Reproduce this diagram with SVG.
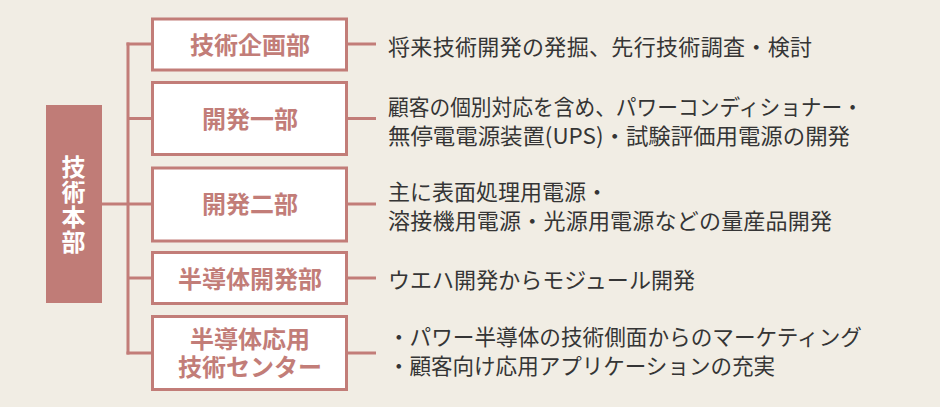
<svg xmlns="http://www.w3.org/2000/svg" width="940" height="407" viewBox="0 0 940 407">
<style>
.bg{fill:#f1ede4}
.box{fill:#ffffff;stroke:#c27d78;stroke-width:3}
.lbl{font-family:"Noto Sans CJK JP","Noto Sans",sans-serif;font-weight:bold;font-size:24px;fill:#c27d78;text-anchor:middle}
.main{fill:#c07c77}
.mtxt{font-family:"Noto Sans CJK JP","Noto Sans",sans-serif;font-weight:bold;font-size:24px;fill:#ffffff;writing-mode:vertical-rl;letter-spacing:1px}
.desc{font-family:"Noto Sans CJK JP","Noto Sans",sans-serif;font-size:22px;fill:#353535}
.ln{stroke:#c27d78;stroke-width:3;fill:none}
</style>
<rect class="bg" x="0" y="0" width="940" height="407"/>
<g id="connectors">
<line class="ln" x1="101" y1="204" x2="128" y2="204"/>
<line class="ln" x1="128" y1="42.5" x2="128" y2="354.5"/>
<line class="ln" x1="126.5" y1="44" x2="152" y2="44"/>
<line class="ln" x1="128" y1="118.5" x2="152" y2="118.5"/>
<line class="ln" x1="128" y1="204" x2="152" y2="204"/>
<line class="ln" x1="128" y1="278" x2="152" y2="278"/>
<line class="ln" x1="126.5" y1="353" x2="152" y2="353"/>
<line class="ln" x1="348" y1="44" x2="376" y2="44"/>
<line class="ln" x1="348" y1="118.5" x2="376" y2="118.5"/>
<line class="ln" x1="348" y1="204" x2="376" y2="204"/>
<line class="ln" x1="348" y1="278" x2="376" y2="278"/>
<line class="ln" x1="348" y1="353" x2="376" y2="353"/>
</g>
<g id="n0">
<rect class="main" x="46" y="105" width="56" height="198"/>
<text class="mtxt" x="73.5" y="155">技術本部</text>
</g>
<g id="n1">
<rect class="box" x="152.5" y="19" width="194" height="51"/>
<text class="lbl" x="250" y="54">技術企画部</text>
</g>
<g id="n2">
<rect class="box" x="152.5" y="82.5" width="194" height="72"/>
<text class="lbl" x="250" y="128">開発一部</text>
</g>
<g id="n3">
<rect class="box" x="152.5" y="168" width="194" height="73"/>
<text class="lbl" x="250" y="213">開発二部</text>
</g>
<g id="n4">
<rect class="box" x="152.5" y="252.5" width="194" height="51"/>
<text class="lbl" x="250" y="288">半導体開発部</text>
</g>
<g id="n5">
<rect class="box" x="152.5" y="316.5" width="194" height="73"/>
<text class="lbl" x="250" y="348"><tspan x="250" y="348">半導体応用</tspan><tspan x="250" y="376">技術センター</tspan></text>
</g>
<g id="d1"><text class="desc" x="388" y="55" textLength="424" lengthAdjust="spacing">将来技術開発の発掘、先行技術調査・検討</text></g>
<g id="d2">
<text class="desc" x="388" y="115" textLength="475" lengthAdjust="spacingAndGlyphs">顧客の個別対応を含め、パワーコンディショナー・</text>
<text class="desc" x="388" y="144" textLength="462" lengthAdjust="spacingAndGlyphs">無停電電源装置(UPS)・試験評価用電源の開発</text>
</g>
<g id="d3">
<text class="desc" x="388" y="200">主に表面処理用電源・</text>
<text class="desc" x="388" y="229" textLength="444" lengthAdjust="spacing">溶接機用電源・光源用電源などの量産品開発</text>
</g>
<g id="d4"><text class="desc" x="388" y="288" textLength="307" lengthAdjust="spacing">ウエハ開発からモジュール開発</text></g>
<g id="d5">
<text class="desc" x="388" y="345" textLength="474" lengthAdjust="spacingAndGlyphs">・パワー半導体の技術側面からのマーケティング</text>
<text class="desc" x="388" y="374" textLength="387" lengthAdjust="spacingAndGlyphs">・顧客向け応用アプリケーションの充実</text>
</g>
</svg>
